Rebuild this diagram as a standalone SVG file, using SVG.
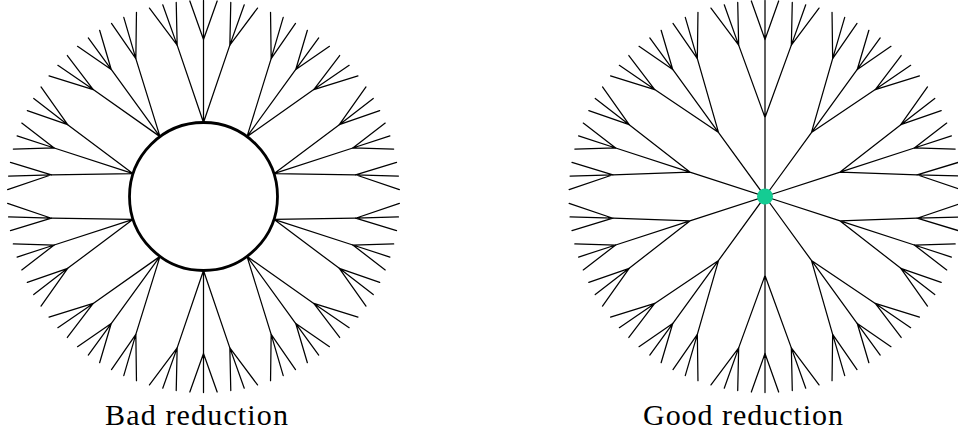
<svg xmlns="http://www.w3.org/2000/svg" xmlns:xlink="http://www.w3.org/1999/xlink" width="958" height="436" viewBox="0 0 958 436">
  <style>
    .edge { fill: none; stroke: #000; stroke-width: 1.25; stroke-linecap: round; stroke-linejoin: round; }
    .hub { fill: #fff; stroke: #000; stroke-width: 2.8; }
    .dot { fill: #14cc93; stroke: none; }
    .label { font-family: "Liberation Serif", "DejaVu Serif", serif; font-size: 30px; fill: #000; }
  </style>
  <defs>
    <path id="crown" class="edge" d="M-26.34,-151.36 L-54.03,-188.41 M-26.34,-151.36 L-40.75,-191.72 M-26.34,-151.36 L-27.28,-194.09 M0,-157 L-13.67,-195.52 M0,-157 V-196 M0,-157 L13.67,-195.52 M26.34,-151.36 L27.28,-194.09 M26.34,-151.36 L40.75,-191.72 M26.34,-151.36 L54.03,-188.41"/>
    <g id="branch-good">
      <path class="edge" d="M0,0 V-79 M0,-79 L-26.34,-151.36 M0,-79 V-157 M0,-79 L26.34,-151.36"/>
      <use xlink:href="#crown" href="#crown"/>
    </g>
    <g id="branch-bad">
      <path class="edge" d="M0,-74 L-26.34,-151.36 M0,-74 V-157 M0,-74 L26.34,-151.36"/>
      <use xlink:href="#crown" href="#crown"/>
    </g>
  </defs>

  <rect x="0" y="0" width="958" height="436" fill="#fff"/>

  <!-- Bad reduction -->
  <g id="bad-connectors" transform="translate(203.5,196.5)">
    <use href="#branch-bad" xlink:href="#branch-bad" transform="rotate(0)"/>
    <use href="#branch-bad" xlink:href="#branch-bad" transform="rotate(36)"/>
    <use href="#branch-bad" xlink:href="#branch-bad" transform="rotate(72)"/>
    <use href="#branch-bad" xlink:href="#branch-bad" transform="rotate(108)"/>
    <use href="#branch-bad" xlink:href="#branch-bad" transform="rotate(144)"/>
    <use href="#branch-bad" xlink:href="#branch-bad" transform="rotate(180)"/>
    <use href="#branch-bad" xlink:href="#branch-bad" transform="rotate(216)"/>
    <use href="#branch-bad" xlink:href="#branch-bad" transform="rotate(252)"/>
    <use href="#branch-bad" xlink:href="#branch-bad" transform="rotate(288)"/>
    <use href="#branch-bad" xlink:href="#branch-bad" transform="rotate(324)"/>
  </g>
  <g id="bad-hub">
    <circle class="hub" cx="203.5" cy="196.5" r="74"/>
  </g>
  <g id="bad-label">
    <text class="label" x="105" y="425" textLength="183" lengthAdjust="spacing">Bad reduction</text>
  </g>

  <!-- Good reduction -->
  <g id="good-connectors" transform="translate(765,196.5)">
    <use href="#branch-good" xlink:href="#branch-good" transform="rotate(0)"/>
    <use href="#branch-good" xlink:href="#branch-good" transform="rotate(36)"/>
    <use href="#branch-good" xlink:href="#branch-good" transform="rotate(72)"/>
    <use href="#branch-good" xlink:href="#branch-good" transform="rotate(108)"/>
    <use href="#branch-good" xlink:href="#branch-good" transform="rotate(144)"/>
    <use href="#branch-good" xlink:href="#branch-good" transform="rotate(180)"/>
    <use href="#branch-good" xlink:href="#branch-good" transform="rotate(216)"/>
    <use href="#branch-good" xlink:href="#branch-good" transform="rotate(252)"/>
    <use href="#branch-good" xlink:href="#branch-good" transform="rotate(288)"/>
    <use href="#branch-good" xlink:href="#branch-good" transform="rotate(324)"/>
  </g>
  <g id="good-hub">
    <circle class="dot" cx="765" cy="196.5" r="8"/>
  </g>
  <g id="good-label">
    <text class="label" x="643" y="425" textLength="200" lengthAdjust="spacing">Good reduction</text>
  </g>
</svg>
